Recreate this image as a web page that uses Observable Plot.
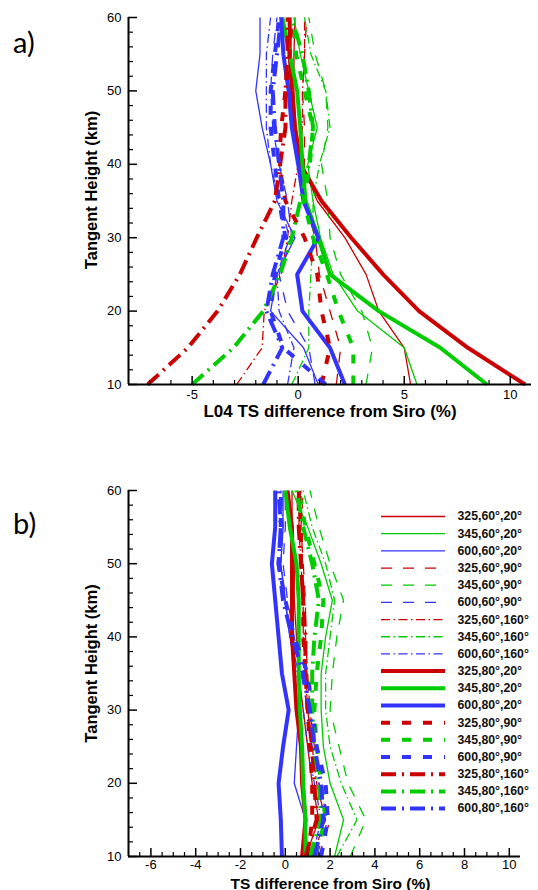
<!DOCTYPE html>
<html><head><meta charset="utf-8">
<script src="https://cdn.jsdelivr.net/npm/d3@7"></script>
<script src="https://cdn.jsdelivr.net/npm/@observablehq/plot@0.6"></script>
<style>
body{margin:0;background:#fff;}
#wrap{position:relative;width:538px;height:890px;overflow:hidden;background:#fff;}
.abs{position:absolute;}
.tag{position:absolute;left:13px;font-family:Lato,"Open Sans",sans-serif;font-size:29px;color:#000;line-height:1;}
</style></head><body><div id="wrap"></div>
<script>
// ---------- data ----------
const heights = [10, 15, 20, 25, 30, 35, 40, 45, 50, 55, 60];
const wavelengths = ["325", "345", "600"];
const elevations = ["60", "80"];
const azimuths = ["20", "90", "160"];

// series order: for elevation, for azimuth, for wavelength (legend order)
// panel a) values (%) at heights 10..60 km
const panelA = [
  [5.3, 5.0, 3.8, 3.2, 2.2, 0.9, 0.2, -0.1, -0.2, -0.2, -0.15],     // 325,60,20
  [5.6, 5.0, 2.8, 1.65, 1.05, 0.7, 0.45, 0.9, 0.5, 0.1, -0.2],      // 345,60,20
  [0.95, 0.25, -1.3, -1.0, -0.15, -1.0, -1.3, -1.7, -2.0, -1.8, -1.8], // 600,60,20
  [1.8, 2.0, 1.5, 1.0, 0.8, 0.3, 0.3, 0.3, 0.2, 0.3, 0.4],          // 325,60,90
  [3.2, 3.5, 3.0, 2.0, 1.5, 1.4, 1.1, 1.4, 1.3, 0.8, 0.5],          // 345,60,90
  [0.8, 0.5, -0.5, -0.9, -0.3, -0.5, -0.9, -1.2, -1.3, -1.2, -1.0], // 600,60,90
  [-2.9, -1.7, -1.6, -0.8, -0.5, -0.3, 0.0, 0.2, 0.2, 0.3, 0.3],    // 325,60,160
  [-0.3, 0.5, 0.5, 0.6, 0.7, 0.7, 1.0, 1.5, 1.3, 0.6, 0.3],         // 345,60,160
  [-0.5, -0.2, -0.9, -1.0, -0.4, -0.9, -1.3, -1.5, -1.5, -1.5, -1.3], // 600,60,160
  [10.7, 8.0, 5.7, 4.0, 2.5, 1.1, 0.1, -0.15, -0.3, -0.4, -0.4],    // 325,80,20
  [8.9, 6.7, 3.8, 1.5, 0.95, 0.35, 0.2, 0.1, -0.05, -0.4, -0.75],   // 345,80,20
  [2.2, 1.5, 0.2, -0.05, 0.95, 0.25, 0.0, -0.3, -0.45, -0.7, -0.8], // 600,80,20
  [1.1, 1.5, 1.1, 0.9, 0.3, -0.6, -0.9, -0.8, -0.6, -0.4, -0.3],    // 325,80,90
  [2.6, 2.6, 1.9, 1.35, 0.7, 0.25, 0.55, 0.7, 0.3, -0.1, -0.2],     // 345,80,90
  [1.3, -0.7, -1.3, -1.1, -0.6, -0.9, -1.1, -1.3, -1.3, -1.1, -0.9], // 600,80,90
  [-7.1, -5.2, -3.8, -2.75, -1.95, -1.1, -0.85, -0.6, -0.6, -0.5, -0.5], // 325,80,160
  [-5.0, -3.05, -1.65, -0.85, -0.3, 0.1, 0.5, 0.7, 0.5, 0.2, -0.3], // 345,80,160
  [-1.65, -0.75, -1.5, -1.2, -0.7, -0.7, -0.9, -1.1, -1.2, -1.0, -0.8] // 600,80,160
];
// panel b) values (%)
const panelB = [
  [0.9, 1.5, 1.2, 1.0, 0.8, 0.6, 0.5, 0.4, 0.4, 0.3, 0.3],
  [2.2, 2.6, 2.0, 1.7, 1.6, 1.6, 1.8, 2.1, 1.6, 1.0, 0.3],
  [1.0, 0.9, 0.4, 0.5, 0.6, 0.6, 0.2, 0.0, -0.2, -0.1, -0.1],
  [1.5, 2.0, 1.5, 1.3, 1.1, 1.0, 0.9, 0.9, 0.8, 0.7, 0.8],
  [2.9, 3.6, 2.8, 2.4, 2.0, 2.1, 2.3, 2.6, 2.0, 1.5, 1.1],
  [1.4, 1.9, 1.5, 1.2, 1.0, 0.7, 0.4, 0.1, -0.1, 0.0, 0.0],
  [1.2, 1.8, 1.4, 1.2, 1.0, 0.9, 0.8, 0.8, 0.7, 0.6, 0.7],
  [2.3, 3.2, 2.5, 2.0, 1.8, 1.8, 2.0, 2.2, 1.8, 1.2, 0.8],
  [1.2, 1.6, 1.3, 1.0, 0.8, 0.5, 0.2, 0.0, -0.2, -0.1, -0.2],
  [0.75, 0.9, 0.75, 0.7, 0.5, 0.4, 0.3, 0.3, 0.3, 0.3, 0.1],
  [0.9, 0.9, 0.8, 0.75, 0.65, 0.6, 0.6, 0.6, 0.5, 0.2, 0.0],
  [-0.15, -0.2, -0.3, -0.1, 0.15, -0.15, -0.3, -0.45, -0.6, -0.45, -0.45],
  [1.0, 1.2, 1.2, 1.1, 1.0, 0.9, 0.8, 0.8, 0.7, 0.7, 0.6],
  [1.3, 1.8, 1.6, 1.4, 1.3, 1.4, 1.6, 1.7, 1.3, 0.9, 0.6],
  [1.6, 1.9, 1.8, 1.4, 1.2, 1.0, 0.4, 0.0, -0.3, -0.2, -0.2],
  [0.9, 1.4, 1.3, 1.2, 1.0, 0.9, 0.9, 0.8, 0.7, 0.6, 0.6],
  [1.1, 1.6, 1.5, 1.3, 1.2, 1.2, 1.3, 1.5, 1.2, 0.8, 0.5],
  [1.3, 1.7, 1.6, 1.3, 1.1, 0.8, 0.3, -0.1, -0.3, -0.2, -0.3]
];
const yTicks = [10, 20, 30, 40, 50, 60];
const yMinor = [12, 14, 16, 18, 22, 24, 26, 28, 32, 34, 36, 38, 42, 44, 46, 48, 52, 54, 56, 58];
const xTicksA = [-5, 0, 5, 10];
const xMinorA = [-7, -6, -4, -3, -2, -1, 1, 2, 3, 4, 6, 7, 8, 9];
const xTicksB = [-6, -4, -2, 0, 2, 4, 6, 8, 10];
const xMinorB = [-6.5, -5.5, -5, -4.5, -3.5, -3, -2.5, -1.5, -1, -0.5, 0.5, 1, 1.5, 2.5, 3, 3.5, 4.5, 5, 5.5, 6.5, 7, 7.5, 8.5, 9, 9.5];
const yTitle = "Tangent Height (km)";
const xTitleA = "L04 TS difference from Siro (%)";
const xTitleB = "TS difference from Siro (%)";

// ---------- styles ----------
const colorOf = {"325": "rgb(204,0,0)", "345": "rgb(0,204,0)", "600": "rgb(51,51,255)"};
const widthOf = {"60": 1.3, "80": 4};
const dashOf = {
  "60": {"20": null, "90": "11,11", "160": "9,3.5,1.5,3.5"},
  "80": {"20": null, "90": "9,12", "160": "15,6,2,6"}
};
const series = [];
for (const e of elevations) for (const a of azimuths) for (const w of wavelengths)
  series.push({w, e, a, label: `${w},${e}°,${a}°`});

const FONT = "'Liberation Sans', Arial, Helvetica, sans-serif";

function panel(values, o) {
  const frameW = o.width - o.ml - o.mr;
  const frameH = o.height - o.mt - o.mb;
  const marks = [];
  series.forEach((s, i) => {
    const data = heights.map((h, j) => ({h, v: values[i][j]}));
    marks.push(Plot.line(data, {
      x: "v", y: "h", stroke: colorOf[s.w], strokeWidth: widthOf[s.e],
      strokeDasharray: dashOf[s.e][s.a], strokeLinecap: "butt", strokeLinejoin: "round"
    }));
  });
  // ticks (inward)
  marks.push(Plot.ruleX(o.xTicks, {x: d => d, stroke: "#000", strokeWidth: 1.5, insetTop: frameH - 8}));
  marks.push(Plot.ruleX(o.xMinor, {x: d => d, stroke: "#000", strokeWidth: 1.2, insetTop: frameH - 4}));
  marks.push(Plot.ruleY(yTicks, {y: d => d, stroke: "#000", strokeWidth: 1.5, insetRight: frameW - 9}));
  marks.push(Plot.ruleY(yMinor, {y: d => d, stroke: "#000", strokeWidth: 1.2, insetRight: frameW - 5}));
  // axis lines
  marks.push(Plot.ruleY([10], {stroke: "#000", strokeWidth: 2}));
  marks.push(Plot.ruleX([o.xDomain[0]], {stroke: "#000", strokeWidth: 2}));
  // tick labels
  marks.push(Plot.axisX({ticks: o.xTicks, tickSize: 0, tickPadding: o.xpad, tickFormat: d => String(d), label: null, fontSize: 13}));
  marks.push(Plot.axisY({ticks: yTicks, tickSize: 0, tickPadding: 7, tickFormat: d => String(d), label: null, fontSize: 13}));
  // titles
  marks.push(Plot.text([o.xTitle], {text: d => d, frameAnchor: "bottom", textAnchor: "middle", dx: o.xdx, dy: o.xdy, lineAnchor: "bottom", fontWeight: "bold", fontSize: o.xfs}));
  marks.push(Plot.text([yTitle], {text: d => d, frameAnchor: "left", textAnchor: "middle", rotate: -90, dx: -37, dy: o.ydy, lineAnchor: "middle", fontWeight: "bold", fontSize: 16.5}));
  return Plot.plot({
    width: o.width, height: o.height,
    marginLeft: o.ml, marginRight: o.mr, marginTop: o.mt, marginBottom: o.mb,
    x: {domain: o.xDomain},
    y: {domain: [10, 60]},
    style: {fontFamily: FONT, fontSize: "13px", color: "#000", background: "transparent", overflow: "visible"},
    marks
  });
}

const wrap = document.getElementById("wrap");

const a = panel(panelA, {width: 538, height: 430, ml: 128, mr: 7, mt: 17, mb: 46,
  xDomain: [-8, 11], xTicks: xTicksA, xMinor: xMinorA, xTitle: xTitleA, xdx: 0, xdy: 32, xfs: 17, xpad: 5, ydy: -11});
a.classList.add("abs"); a.style.left = "0px"; a.style.top = "0px";
wrap.appendChild(a);

const b = panel(panelB, {width: 538, height: 420, ml: 128, mr: 18, mt: 20, mb: 34,
  xDomain: [-7, 10.5], xTicks: xTicksB, xMinor: xMinorB, xTitle: xTitleB, xdx: 6, xdy: 32, xfs: 15.5, xpad: 3, ydy: -10});
b.classList.add("abs"); b.style.left = "0px"; b.style.top = "470px";
wrap.appendChild(b);

// legend
const legMarks = [];
series.forEach((s, i) => {
  legMarks.push(Plot.ruleY([i], {y: d => d, x1: 0, x2: 1, stroke: colorOf[s.w], strokeWidth: widthOf[s.e],
    strokeDasharray: dashOf[s.e][s.a], strokeLinecap: "butt"}));
});
legMarks.push(Plot.text(series, {x: () => 1, y: (d, i) => i, text: "label", dx: 12, textAnchor: "start",
  fontWeight: "bold", fontSize: 12.3, fill: "#111"}));
const leg = Plot.plot({
  width: 163, height: 320, margin: 0,
  x: {domain: [0, 1], range: [6, 70], axis: null},
  y: {domain: [0, 17], range: [11, 11 + 17 * 17.18], axis: null},
  style: {fontFamily: FONT, background: "transparent", overflow: "visible"},
  marks: legMarks
});
leg.classList.add("abs"); leg.style.left = "375px"; leg.style.top = "505px";
wrap.appendChild(leg);

// panel tags
const ta = document.createElement("div"); ta.className = "tag"; ta.textContent = "a)"; ta.style.top = "27px"; wrap.appendChild(ta);
const tb = document.createElement("div"); tb.className = "tag"; tb.textContent = "b)"; tb.style.top = "508px"; wrap.appendChild(tb);
</script>
</body></html>
